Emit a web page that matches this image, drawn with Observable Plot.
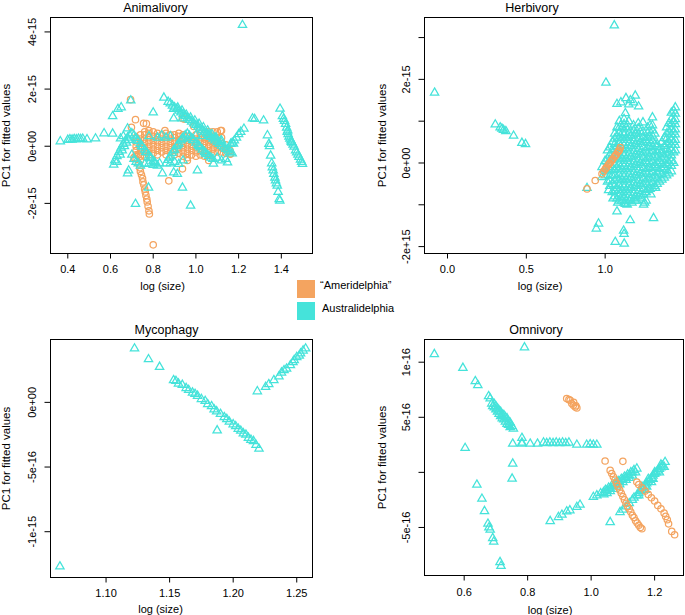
<!DOCTYPE html>
<html><head><meta charset="utf-8">
<script src="https://cdn.jsdelivr.net/npm/d3@7"></script>
<script src="https://cdn.jsdelivr.net/npm/@observablehq/plot@0.6"></script>
<style>
body{margin:0;background:#fff;font-family:"Liberation Sans",Arial,sans-serif;}
#root{position:relative;width:685px;height:615px;overflow:hidden;background:#fff;}
.panel{position:absolute;}
.sw{position:absolute;width:18px;height:18px;}
.lt{position:absolute;font-size:11px;line-height:13px;color:#000;white-space:nowrap;}
</style></head><body><div id="root"></div>
<script>
const ORANGE = "#F4A460", TURQ = "#45E3DA";
const groups = ["\u201CAmeridelphia\u201D", "Australidelphia"];
const titles = ["Animalivory", "Herbivory", "Mycophagy", "Omnivory"];
const xAxisLabel = "log (size)", yAxisLabel = "PC1 for fitted values";

// ---- tick values and labels (y in units of 1e-15) ----
const aniXTicks = [0.4, 0.6, 0.8, 1.0, 1.2, 1.4], aniXLabels = ["0.4","0.6","0.8","1.0","1.2","1.4"];
const aniYTicks = [4, 2, 0, -2], aniYLabels = ["4e-15","2e-15","0e+00","-2e-15"];
const herbXTicks = [0, 0.5, 1.0], herbXLabels = ["0.0","0.5","1.0"];
const herbYTicks = [3, 2, 1, 0, -1, -2], herbYLabels = ["","2e-15","","0e+00","","-2e+15"];
const mycXTicks = [1.10, 1.15, 1.20, 1.25], mycXLabels = ["1.10","1.15","1.20","1.25"];
const mycYTicks = [0, -0.5, -1], mycYLabels = ["0e+00","-5e-16","-1e-15"];
const omnXTicks = [0.6, 0.8, 1.0, 1.2], omnXLabels = ["0.6","0.8","1.0","1.2"];
const omnYTicks = [1, 0.5, 0, -0.5], omnYLabels = ["1e-16","5e-16","","-5e-16"];

// ---- Animalivory ----
const aniAus = [
 [0.365,0.17],[0.40,0.22],[0.41,0.24],[0.42,0.23],[0.43,0.25],[0.44,0.24],[0.45,0.26],[0.46,0.25],[0.47,0.26],[0.49,0.24],[0.53,0.27],[0.57,0.45],
 [0.61,0.44],[0.647,0.27],[0.66,0.35],[0.68,0.62],[0.61,1.05],[0.635,1.3],[0.65,1.36],[0.695,1.6],
 [0.615,-0.65],[0.63,-0.55],[0.68,-0.95],[0.685,-0.85],[0.717,-2.02],[0.778,-1.45],
 [0.62,-0.5],[0.63,-0.35],[0.64,-0.2],[0.65,-0.05],[0.66,0.08],[0.67,0.2],[0.68,0.3],[0.69,0.38],[0.70,0.45],[0.645,-0.3],[0.655,-0.15],[0.665,0.0],[0.675,0.12],[0.685,0.22],
 [0.71,0.38],[0.72,0.28],[0.73,0.18],[0.74,0.08],[0.75,-0.02],[0.76,-0.12],[0.77,-0.22],[0.78,-0.32],[0.79,-0.42],[0.80,-0.52],[0.81,-0.6],[0.82,-0.68],[0.725,0.2],[0.745,0.0],[0.765,-0.2],[0.785,-0.4],[0.805,-0.55],
 [0.70,-0.3],[0.71,-0.45],[0.72,-0.55],[0.73,-0.6],[0.74,-0.68],[0.76,-0.62],[0.78,-0.6],[0.80,-0.66],[0.83,-0.6],
 [0.86,-0.6],[0.87,-0.48],[0.88,-0.36],[0.89,-0.24],[0.90,-0.12],[0.91,0.0],[0.92,0.1],[0.93,0.2],[0.94,0.3],[0.95,0.38],[0.96,0.44],[0.875,-0.4],[0.895,-0.15],[0.915,0.05],[0.935,0.25],
 [0.97,0.36],[0.98,0.28],[0.99,0.2],[1.00,0.12],[1.01,0.04],[1.02,-0.04],[1.03,-0.12],[1.04,-0.2],[1.05,-0.28],[1.06,-0.34],[1.07,-0.4],[1.08,-0.45],[1.10,-0.4],[0.985,0.22],[1.015,0.0],[1.045,-0.25],
 [0.88,-0.6],[0.90,-0.55],[0.92,-0.62],[0.94,-0.5],[1.12,-0.5],[1.14,-0.45],
 [0.78,0.35],[0.82,0.3],[0.84,0.38],[0.86,0.3],[0.88,0.35],[1.0,0.38],[1.03,0.35],[1.06,0.4],[1.09,0.3],[1.12,0.2],
 [0.85,1.7],[0.87,1.55],[0.88,1.5],[0.89,1.42],[0.90,1.36],[0.91,1.3],[0.92,1.24],[0.93,1.18],[0.94,1.12],[0.95,1.05],[0.96,0.98],[0.97,0.92],[0.98,0.86],[0.99,0.8],[1.00,0.74],[1.01,0.68],[1.02,0.62],[1.03,0.56],[1.04,0.5],[1.05,0.44],[1.06,0.38],[1.07,0.32],[1.08,0.26],[1.09,0.2],[1.10,0.14],[1.11,0.08],[1.12,0.02],[1.13,-0.04],[1.14,-0.1],[1.15,-0.15],[1.16,-0.2],[1.17,-0.25],
 [0.895,1.3],[0.915,1.35],[0.935,1.25],[0.955,1.1],[0.975,1.0],[0.995,0.9],[1.015,0.78],[1.035,0.66],[1.055,0.55],[1.075,0.42],[1.095,0.3],[1.115,0.18],
 [0.80,1.18],[0.896,0.97],[0.937,0.97],[0.843,-0.95],[0.896,-0.92],[0.913,-0.97],[0.937,-1.45],[0.975,-2.08],[1.007,-0.85],[1.082,-0.61],[1.148,-0.57],[1.176,0.09],
 [1.218,4.24],[1.265,0.97],[1.275,0.95],[1.317,0.9],
 [1.163,0.08],[1.17,0.12],[1.18,0.2],[1.19,0.3],[1.2,0.42],[1.21,0.5],[1.225,0.61],
 [1.335,0.38],[1.342,0.08],[1.345,0.0],[1.35,-0.33],[1.355,-0.6],[1.358,-0.74],[1.362,-0.85],[1.365,-0.97],[1.37,-1.1],[1.373,-1.2],[1.377,-1.3],[1.381,-1.38],[1.385,-1.6],[1.39,-1.85],[1.393,-1.91],
 [1.394,1.31],[1.405,1.05],[1.41,0.95],[1.415,0.88],[1.42,0.78],[1.425,0.65],[1.428,0.5],[1.43,0.55],[1.432,0.42],[1.436,0.33],[1.44,0.26],[1.445,0.2],[1.447,0.15],[1.45,0.12],[1.455,0.05],[1.46,-0.02],[1.467,-0.15],[1.472,-0.22],[1.478,-0.3],[1.483,-0.38],[1.49,-0.47],[1.495,-0.55],[1.499,-0.62]
];
const aniAmeScatter = [
 [0.694,1.63],[0.717,0.93],[0.698,0.66],[0.755,0.8],[0.768,0.79],[0.937,0.97],[0.945,0.95],[0.99,0.69],[0.855,0.55],[0.873,-1.21],[0.937,-0.79],[0.80,-3.45],[1.116,0.55],[1.162,-0.27],[0.96,-0.5],
 [0.733,-0.62],[0.737,-0.75],[0.74,-0.88],[0.745,-1.0],[0.75,-1.12],[0.752,-1.25],[0.756,-1.35],[0.76,-1.5],[0.763,-1.6],[0.766,-1.72],[0.77,-1.85],[0.772,-1.95],[0.776,-2.1],[0.78,-2.26],[0.782,-2.37],
 [0.71,-0.4],[0.73,-0.3],[1.053,0.26],[1.07,0.2],[1.09,0.1],[1.11,0.0],[1.13,-0.1]
];
const aniAmeCols = [
 [0.72,[-0.45,-0.3,-0.15,0.0,0.15,0.3]],[0.74,[-0.5,-0.35,-0.2,-0.05,0.1,0.25,0.4]],[0.76,[-0.35,-0.2,-0.05,0.1,0.25,0.4,0.5]],
 [0.78,[-0.3,-0.15,0.0,0.15,0.3,0.45,0.55]],[0.80,[-0.25,-0.1,0.05,0.2,0.35,0.5]],[0.82,[-0.3,-0.15,0.0,0.15,0.3,0.45]],
 [0.84,[-0.2,-0.05,0.1,0.25,0.4]],[0.86,[-0.3,-0.15,0.0,0.15,0.3,0.45]],[0.88,[-0.2,-0.05,0.1,0.25,0.4]],
 [0.90,[-0.3,-0.15,0.0,0.15,0.3,0.4]],[0.92,[-0.25,-0.1,0.05,0.2,0.35,0.45]],[0.94,[-0.35,-0.2,-0.05,0.1,0.25,0.4]],
 [0.96,[-0.4,-0.25,-0.1,0.05,0.2,0.35]],[0.98,[-0.3,-0.15,0.0,0.15,0.3]],[1.00,[-0.35,-0.2,-0.05,0.1,0.25,0.4]],
 [1.02,[-0.3,-0.15,0.0,0.15,0.3,0.45]],[1.04,[-0.35,-0.2,-0.05,0.1,0.25,0.45]],[1.06,[-0.5,-0.3,-0.15,0.0,0.15,0.3,0.5]],
 [1.08,[-0.25,-0.1,0.05,0.2,0.35,0.5]],[1.10,[-0.2,-0.05,0.1,0.3,0.5]],[1.12,[-0.2,-0.05,0.1,0.3,0.55]],
 [1.14,[-0.25,-0.1,0.05]],[1.16,[-0.27,-0.15]]
];

// ---- Herbivory ----
const herbAusScatter = [
 [-0.082,1.68],[0.303,0.92],[0.334,0.85],[0.345,0.82],[0.355,0.79],[0.37,0.76],[0.419,0.65],[0.472,0.48],[0.495,0.45],
 [1.058,3.29],[1.005,1.92],[1.075,1.41],[1.132,1.55],[1.191,1.61],[1.16,1.5],[1.212,1.35],[1.128,1.19],[1.10,1.45],[1.15,1.4],[1.18,1.45],
 [1.307,-1.32],[1.159,-1.37],[1.117,-1.62],[1.12,-1.7],[0.958,-1.45],[0.944,-1.57],[1.064,-1.89],[1.121,-1.93],[1.075,-1.16],[1.128,-0.98],
 [1.191,-0.9],[1.244,-1.0],[1.25,-0.95],[1.26,-0.9],[1.022,-0.65],[1.096,-0.73],[0.885,-0.6],[0.98,-0.1],[0.98,-0.34],
 [1.05,-0.85],[1.08,-0.95],[1.14,-1.0],[1.17,-0.95],[1.2,-0.9],[1.23,-0.85],[1.26,-0.7],[1.29,-0.75],[1.32,-0.6]
];
const herbAusCols = [
 [1.00,[-0.3,-0.15,0.05]],[1.015,[-0.45,-0.2,0.1,0.3]],[1.03,[-0.55,-0.42,-0.3,-0.17,-0.05,0.08,0.2,0.37]],
 [1.045,[-0.7,-0.5,-0.3,-0.1,0.1,0.3,0.5]],[1.06,[-0.8,-0.67,-0.55,-0.42,-0.3,-0.17,-0.05,0.08,0.2,0.33,0.45,0.58,0.7]],
 [1.075,[-0.85,-0.6,-0.35,-0.1,0.15,0.4,0.65,0.85]],[1.09,[-0.9,-0.78,-0.65,-0.52,-0.4,-0.27,-0.15,-0.02,0.1,0.23,0.35,0.48,0.6,0.72,0.85,1.0]],
 [1.105,[-0.9,-0.65,-0.4,-0.15,0.1,0.35,0.6,0.85]],[1.12,[-0.95,-0.82,-0.7,-0.57,-0.45,-0.32,-0.2,-0.07,0.05,0.18,0.3,0.43,0.55,0.68,0.8,0.93,1.05]],
 [1.135,[-0.9,-0.65,-0.4,-0.15,0.1,0.35,0.6,0.85]],[1.15,[-0.9,-0.77,-0.65,-0.52,-0.4,-0.27,-0.15,-0.02,0.1,0.23,0.35,0.48,0.6,0.72,0.85,1.0]],
 [1.165,[-0.85,-0.6,-0.35,-0.1,0.15,0.4,0.65]],[1.18,[-0.85,-0.72,-0.6,-0.47,-0.35,-0.22,-0.1,0.03,0.15,0.28,0.4,0.53,0.65,0.78,0.9]],
 [1.195,[-0.8,-0.55,-0.3,-0.05,0.2,0.45,0.7]],[1.21,[-0.8,-0.67,-0.55,-0.42,-0.3,-0.17,-0.05,0.08,0.2,0.33,0.45,0.58,0.7,0.83,0.95]],
 [1.225,[-0.75,-0.5,-0.25,0.0,0.25,0.5,0.75]],[1.24,[-0.75,-0.62,-0.5,-0.37,-0.25,-0.12,0.0,0.13,0.25,0.38,0.5,0.62,0.75,0.97]],
 [1.255,[-0.7,-0.45,-0.2,0.05,0.3,0.55]],[1.27,[-0.65,-0.52,-0.4,-0.27,-0.15,-0.02,0.1,0.23,0.35,0.48,0.6,0.72,0.85]],
 [1.285,[-0.62,-0.37,-0.12,0.13,0.38,0.63,0.9]],[1.30,[-0.6,-0.47,-0.35,-0.22,-0.1,0.03,0.15,0.28,0.4,0.53,0.65,0.78,0.9,1.09]],
 [1.315,[-0.55,-0.3,-0.05,0.2,0.45,0.7]],[1.33,[-0.5,-0.37,-0.25,-0.12,0.0,0.13,0.25,0.38,0.45]],
 [1.345,[-0.45,-0.2,0.05,0.3]],[1.36,[-0.4,-0.27,-0.15,-0.02,0.1,0.22,0.3,0.5]],[1.375,[-0.35,-0.1,0.15,0.4,0.6]],
 [1.39,[-0.3,-0.17,-0.05,0.08,0.2,0.33,0.45,0.58,0.7,0.85]],[1.405,[-0.25,0.0,0.25,0.5,0.75,0.95]],
 [1.42,[-0.2,-0.07,0.05,0.18,0.3,0.43,0.55,0.68,0.8,0.93,1.05,1.2]],[1.435,[0.0,0.25,0.5,0.75,1.0,1.25]],
 [1.445,[0.3,0.43,0.55,0.68,0.8,0.93,1.05,1.18,1.33]]
];
const herbAme = [
 [0.885,-0.62],[0.937,-0.42],[0.98,-0.26],[0.99,-0.2],[1.0,-0.15],[1.01,-0.1],[1.02,-0.05],[1.03,0.0],[1.04,0.05],[1.05,0.1],
 [1.06,0.15],[1.07,0.2],[1.08,0.26],[1.09,0.31],[1.096,0.37],[1.005,-0.12],[1.025,-0.02],[1.045,0.08],[1.065,0.18],[1.085,0.28]
];

// ---- Mycophagy ----
const mycAus = [
 [1.0637,-1.269],[1.1224,0.416],[1.1334,0.333],[1.1421,0.274],
 [1.1531,0.171],[1.155,0.165],[1.157,0.145],[1.16,0.135],[1.163,0.11],[1.165,0.095],[1.168,0.075],[1.17,0.065],[1.172,0.05],[1.175,0.025],
 [1.178,0.01],[1.18,-0.015],[1.183,-0.03],[1.185,-0.055],[1.187,-0.07],[1.19,-0.09],[1.193,-0.115],[1.195,-0.13],[1.197,-0.15],[1.2,-0.17],
 [1.202,-0.185],[1.204,-0.205],[1.206,-0.22],[1.208,-0.24],[1.21,-0.25],[1.212,-0.275],[1.214,-0.29],[1.216,-0.3],[1.218,-0.33],[1.2203,-0.359],
 [1.1874,-0.217],
 [1.219,0.085],[1.2255,0.119],[1.228,0.14],[1.232,0.171],[1.236,0.2],[1.24,0.248],[1.242,0.26],[1.245,0.287],[1.248,0.326],[1.25,0.35],
 [1.253,0.378],[1.255,0.4],[1.257,0.416],[1.238,0.23],[1.247,0.31],[1.252,0.36]
];

// ---- Omnivory ----
const omnAus = [
 [0.506,1.073],[0.79,1.134],[0.596,0.948],[0.635,0.827],[0.643,0.791],[0.677,0.691],[0.682,0.67],
 [0.687,0.624],[0.69,0.6],[0.695,0.59],[0.70,0.57],[0.705,0.55],[0.71,0.53],[0.715,0.51],[0.72,0.49],[0.725,0.48],[0.73,0.46],
 [0.735,0.44],[0.74,0.43],[0.745,0.41],[0.755,0.397],[0.70,0.6],[0.71,0.56],[0.72,0.52],[0.73,0.5],[0.74,0.46],
 [0.695,0.62],[0.705,0.58],[0.715,0.55],[0.725,0.52],[0.735,0.49],[0.745,0.45],[0.75,0.42],
 [0.782,0.312],[0.782,0.27],[0.603,0.221],[0.753,0.079],[0.751,-0.057],
 [0.753,0.26],[0.782,0.26],[0.808,0.26],[0.831,0.26],[0.85,0.27],[0.86,0.265],[0.87,0.27],[0.88,0.265],[0.89,0.27],[0.90,0.265],
 [0.91,0.27],[0.92,0.265],[0.93,0.27],[0.955,0.25],[0.986,0.25],[0.997,0.255],[1.007,0.25],[1.018,0.25],
 [0.64,-0.112],[0.656,-0.24],[0.664,-0.352],[0.675,-0.467],[0.678,-0.5],[0.682,-0.521],[0.69,-0.597],[0.693,-0.63],[0.713,-0.815],[0.716,-0.85],
 [0.871,-0.443],[0.897,-0.406],[0.908,-0.385],[0.923,-0.355],[0.933,-0.345],[0.955,-0.315],[0.965,-0.294],[1.007,-0.224],[1.018,-0.209],
 [1.03,-0.19],[1.039,-0.18],[1.045,-0.16],[1.05,-0.165],[1.055,-0.14],[1.06,-0.145],[1.065,-0.12],[1.07,-0.12],[1.075,-0.1],[1.08,-0.105],
 [1.085,-0.08],[1.09,-0.085],[1.095,-0.06],[1.1,-0.065],[1.105,-0.04],[1.11,-0.045],[1.115,-0.02],[1.12,-0.025],[1.125,0.0],[1.13,0.0],
 [1.135,0.02],[1.144,0.034],[1.04,-0.2],[1.06,-0.17],[1.08,-0.13],[1.1,-0.09],[1.12,-0.05],
 [1.05,-0.19],[1.07,-0.15],[1.09,-0.11],[1.11,-0.07],[1.13,-0.03],[1.14,0.0],
 [1.06,-0.452],[1.091,-0.361],[1.1,-0.34],[1.11,-0.31],[1.12,-0.28],[1.13,-0.25],[1.135,-0.23],[1.144,-0.209],[1.15,-0.19],[1.155,-0.17],
 [1.16,-0.155],[1.165,-0.14],[1.17,-0.12],[1.175,-0.1],[1.18,-0.085],[1.185,-0.07],[1.19,-0.05],[1.195,-0.03],[1.2,-0.015],[1.205,0.0],
 [1.21,0.015],[1.215,0.03],[1.22,0.045],[1.225,0.06],[1.233,0.094],[1.16,-0.13],[1.18,-0.06],[1.2,0.0],[1.22,0.07],[1.17,-0.16],[1.19,-0.09],
 [1.15,-0.21],[1.175,-0.13],[1.195,-0.06],[1.215,0.0],[1.23,0.05]
];
const omnAme = [
 [0.923,0.67],[0.93,0.66],[0.934,0.655],[0.939,0.625],[0.944,0.609],[0.95,0.594],[0.955,0.585],[0.945,0.635],[0.952,0.605],
 [1.044,0.103],[1.1,0.1],
 [1.06,0.018],[1.065,-0.01],[1.07,-0.04],[1.075,-0.07],[1.08,-0.1],[1.085,-0.13],[1.09,-0.16],[1.095,-0.19],[1.10,-0.22],[1.105,-0.25],
 [1.11,-0.28],[1.115,-0.31],[1.12,-0.33],[1.125,-0.36],[1.13,-0.39],[1.135,-0.41],[1.14,-0.44],[1.145,-0.46],[1.15,-0.48],[1.155,-0.5],[1.16,-0.512],
 [1.144,-0.088],[1.15,-0.11],[1.16,-0.14],[1.17,-0.17],[1.18,-0.2],[1.19,-0.23],[1.2,-0.26],[1.21,-0.3],[1.22,-0.33],[1.23,-0.37],
 [1.235,-0.4],[1.24,-0.43],[1.244,-0.467],[1.254,-0.536],[1.263,-0.566]
];

const fromCols = cols => cols.flatMap(([x, ys]) => ys.map(y => [x, y]));

const panels = [
 {left:0, top:0, width:342, height:305, mt:17, mb:52, ml:50, mr:30, ameFirst:true,
  xDomain:[0.319,1.546], yDomain:[-3.754,4.505], xTicks:aniXTicks, xLabels:aniXLabels, yTicks:aniYTicks, yLabels:aniYLabels,
  title:titles[0], titleDx:-26, xlabDx:-19, xlabDy:33, tickDy:15.5, ylabDx:-44,
  aus:aniAus, ame:aniAmeScatter.concat(fromCols(aniAmeCols))},
 {left:342, top:0, width:343, height:305, mt:17, mb:52, ml:82, mr:2, ameFirst:false,
  xDomain:[-0.146,1.497], yDomain:[-2.165,3.48], xTicks:herbXTicks, xLabels:herbXLabels, yTicks:herbYTicks, yLabels:herbYLabels,
  title:titles[1], titleDx:-22, xlabDx:-14, xlabDy:33, tickDy:15.5, ylabDx:-42,
  aus:herbAusScatter.concat(fromCols(herbAusCols)), ame:herbAme},
 {left:0, top:305, width:342, height:310, mt:34, mb:38, ml:50, mr:30, ameFirst:false,
  xDomain:[1.0563,1.2624], yDomain:[-1.354,0.486], xTicks:mycXTicks, xLabels:mycXLabels, yTicks:mycYTicks, yLabels:mycYLabels,
  title:titles[2], titleDx:-15, xlabDx:-21, xlabDy:32, tickDy:15.5, ylabDx:-44,
  aus:mycAus, ame:[]},
 {left:342, top:305, width:343, height:310, mt:34, mb:40, ml:82, mr:2, ameFirst:false,
  xDomain:[0.475,1.291], yDomain:[-0.936,1.206], xTicks:omnXTicks, xLabels:omnXLabels, yTicks:omnYTicks, yLabels:omnYLabels,
  title:titles[3], titleDx:-18, xlabDx:-4, xlabDy:35, tickDy:17, ylabDx:-42,
  aus:omnAus, ame:omnAme}
];

const root = document.getElementById("root");
for (const p of panels) {
  const ausMark = Plot.dot(p.aus, {x: d => d[0], y: d => d[1], symbol: "triangle", r: 3.1, stroke: TURQ, fill: "none", strokeWidth: 1.25});
  const ameMark = Plot.dot(p.ame, {x: d => d[0], y: d => d[1], symbol: "circle", r: 3.2, stroke: ORANGE, fill: "none", strokeWidth: 1.25});
  const chart = Plot.plot({
    width: p.width, height: p.height,
    marginTop: p.mt, marginBottom: p.mb, marginLeft: p.ml, marginRight: p.mr,
    x: {domain: p.xDomain, type: "linear"},
    y: {domain: p.yDomain, type: "linear"},
    style: {fontFamily: '"Liberation Sans", Arial, sans-serif', fontSize: "11px", background: "transparent", overflow: "visible", color: "#000"},
    marks: [
      Plot.axisX({ticks: p.xTicks, tickSize: 5.5, tickFormat: () => "", label: null, stroke: "#000"}),
      Plot.axisY({ticks: p.yTicks, tickSize: 5.5, tickFormat: () => "", label: null, stroke: "#000"}),
      Plot.text(p.xTicks, {x: d => d, text: (d, i) => p.xLabels[i], frameAnchor: "bottom", lineAnchor: "middle", textAnchor: "middle", dy: p.tickDy, fontSize: 11, fill: "#000"}),
      Plot.text(p.yTicks, {y: d => d, text: (d, i) => p.yLabels[i], frameAnchor: "left", lineAnchor: "middle", textAnchor: "middle", dx: -18, rotate: -90, fontSize: 11, fill: "#000"}),
      ...(p.ameFirst ? [ameMark, ausMark] : [ausMark, ameMark]),
      Plot.frame({stroke: "#000", strokeWidth: 1}),
      Plot.text([p.title], {text: d => d, frameAnchor: "top", lineAnchor: "middle", textAnchor: "middle", dy: -10, dx: p.titleDx, fontSize: 12.5, fill: "#000"}),
      Plot.text([xAxisLabel], {text: d => d, frameAnchor: "bottom", lineAnchor: "middle", textAnchor: "middle", dy: p.xlabDy, dx: p.xlabDx, fontSize: 11, fill: "#000"}),
      Plot.text([yAxisLabel], {text: d => d, frameAnchor: "left", lineAnchor: "middle", textAnchor: "middle", dx: p.ylabDx, rotate: -90, fontSize: 11.5, fill: "#000"})
    ]
  });
  chart.classList.add("panel");
  chart.style.left = p.left + "px";
  chart.style.top = p.top + "px";
  root.appendChild(chart);
}

// legend
const legColors = [ORANGE, TURQ];
const legTops = [280, 301.5];
groups.forEach((g, i) => {
  const sw = document.createElement("div");
  sw.className = "sw";
  sw.style.left = "297px"; sw.style.top = legTops[i] + "px"; sw.style.background = legColors[i];
  root.appendChild(sw);
  const t = document.createElement("div");
  t.className = "lt";
  t.style.left = (i === 0 ? 320 : 322) + "px"; t.style.top = (legTops[i] - 1.5 + (i === 0 ? 0 : 2)) + "px";
  t.textContent = g;
  root.appendChild(t);
});
</script>
</body></html>
